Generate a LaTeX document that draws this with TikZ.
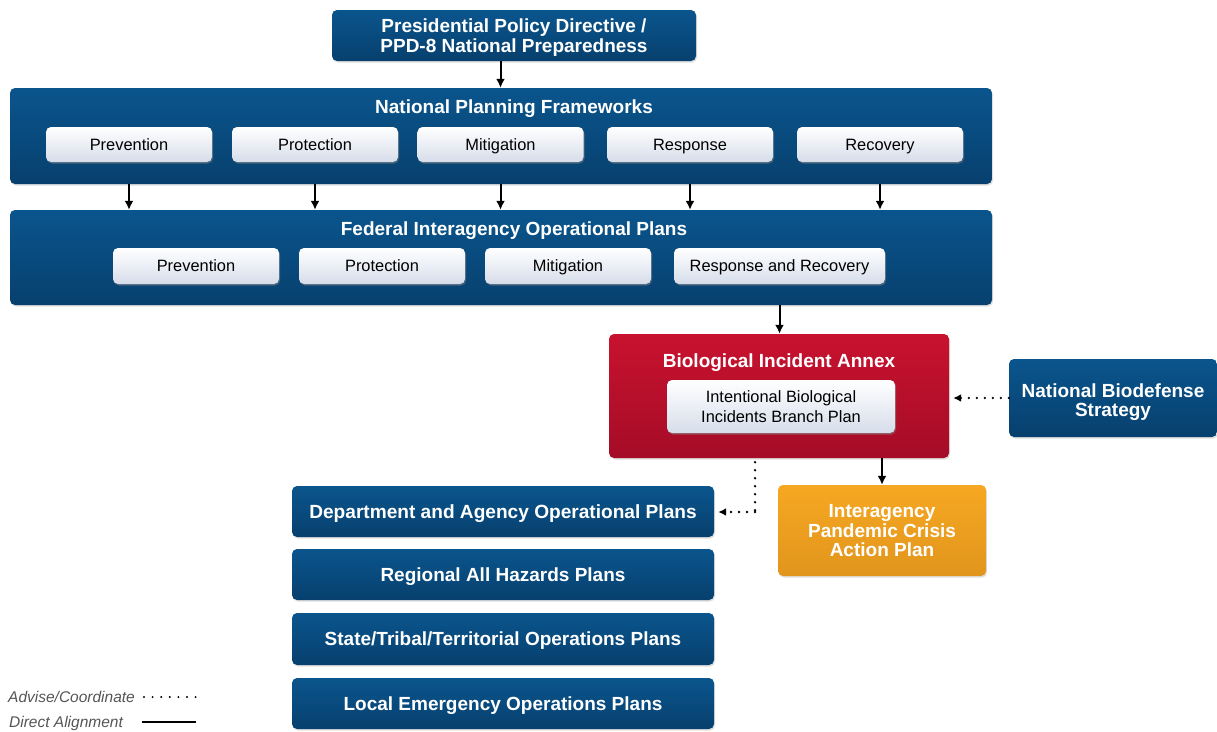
\documentclass[tikz,border=0pt]{standalone}
\usepackage{fontspec}
\setmainfont{Liberation Sans}
\usetikzlibrary{arrows.meta,shadows,calc}
\definecolor{blueT}{HTML}{0A558D}
\definecolor{blueB}{HTML}{07406E}
\definecolor{redT}{HTML}{C8122F}
\definecolor{redB}{HTML}{A50C27}
\definecolor{orgT}{HTML}{F6A822}
\definecolor{orgB}{HTML}{E1951C}
\definecolor{whB}{HTML}{D6DDEA}
\definecolor{legc}{HTML}{555555}
\tikzset{
  box/.style={rounded corners=5pt, draw=none, align=center, inner sep=0pt,
    drop shadow={shadow xshift=1pt, shadow yshift=-1.5pt, opacity=0.25}},
  bluebox/.style={box, top color=blueT, bottom color=blueB, text=white,
    text height=13.6pt, text depth=0pt,
    font=\fontsize{19}{20}\selectfont\bfseries},
  redbox/.style={box, top color=redT, bottom color=redB, text=white,
    font=\fontsize{19}{20}\selectfont\bfseries},
  orgbox/.style={box, top color=orgT, bottom color=orgB, text=white,
    text height=52.6pt, text depth=0pt,
    font=\fontsize{19}{19.5}\selectfont\bfseries},
  whitebox/.style={box, top color=white, bottom color=whB, text=black,
    text height=11.7pt, text depth=0pt,
    minimum height=35pt, font=\fontsize{16.4}{20}\selectfont,
    drop shadow={shadow xshift=1pt, shadow yshift=-1.5pt, opacity=0.35}},
  titletext/.style={text=white, inner sep=0pt, anchor=base,
    font=\fontsize{19}{20}\selectfont\bfseries},
  arr/.style={line width=2pt, -{Latex[length=9pt,width=9pt]}},
  dotarr/.style={line width=2.6pt, line cap=round, dash pattern=on 0pt off 8pt,
    -{Latex[length=8pt,width=8pt]}},
  dotline/.style={line width=2.6pt, line cap=round, dash pattern=on 0pt off 8pt},
  legtext/.style={inner sep=0pt, anchor=west, text=legc, font=\fontsize{15.5}{18}\selectfont\itshape}
}
\begin{document}
\begin{tikzpicture}[x=1pt,y=-1pt]
\useasboundingbox (0,0) rectangle (1217,731);
% top
\node[bluebox, text height=33.6pt, minimum width=364pt, minimum height=51pt] (ppd) at (514,35.5)
  {Presidential Policy Directive /\\PPD-8 National Preparedness};
% National Planning Frameworks
\node[bluebox, minimum width=982pt, minimum height=96pt] (npf) at (501,136) {};
\node[titletext] (npft) at (514,113.8) {National Planning Frameworks};
\node[whitebox, minimum width=166pt] (n1) at (129,144.5) {Prevention};
\node[whitebox, minimum width=166pt] (n2) at (315,144.5) {Protection};
\node[whitebox, minimum width=166pt] (n3) at (500.5,144.5) {Mitigation};
\node[whitebox, minimum width=166pt] (n4) at (690,144.5) {Response};
\node[whitebox, minimum width=166pt] (n5) at (880,144.5) {Recovery};
% Federal Interagency Operational Plans
\node[bluebox, minimum width=982pt, minimum height=95pt] (fiop) at (501,257.5) {};
\node[titletext] (fiopt) at (514,235) {Federal Interagency Operational Plans};
\node[whitebox, minimum width=166pt, minimum height=36pt] (f1) at (196,266) {Prevention};
\node[whitebox, minimum width=166pt, minimum height=36pt] (f2) at (382,266) {Protection};
\node[whitebox, minimum width=166pt, minimum height=36pt] (f3) at (568,266) {Mitigation};
\node[whitebox, minimum width=211pt, minimum height=36pt] (f4) at (779.5,266) {Response and Recovery};
% Biological Incident Annex
\node[redbox, minimum width=340pt, minimum height=124pt] (bia) at (779,396) {};
\node[titletext] (biat) at (779,367) {Biological Incident Annex};
\node[whitebox, text height=31.7pt, minimum width=228pt, minimum height=53pt] (ibi) at (781,406.5)
  {Intentional Biological\\Incidents Branch Plan};
% National Biodefense Strategy
\node[bluebox, text height=37.6pt, font=\fontsize{19}{19}\selectfont\bfseries,
  minimum width=208pt, minimum height=78pt] (nbs) at (1113,398)
  {National Biodefense\\Strategy};
% Interagency Pandemic Crisis Action Plan
\node[orgbox, minimum width=208pt, minimum height=91pt] (ipc) at (882,530.5)
  {Interagency\\Pandemic Crisis\\Action Plan};
% lower plans
\node[bluebox, minimum width=422pt, minimum height=51pt,
  font=\fontsize{19.1}{20}\selectfont\bfseries] (daop) at (503,511.5)
  {Department and Agency Operational Plans};
\node[bluebox, minimum width=422pt, minimum height=51pt] (rahp) at (503,574.5)
  {Regional All Hazards Plans};
\node[bluebox, minimum width=422pt, minimum height=52pt] (stto) at (503,639)
  {State/Tribal/Territorial Operations Plans};
\node[bluebox, minimum width=422pt, minimum height=51pt] (leop) at (503,703.5)
  {Local Emergency Operations Plans};
% connectors
\draw[arr] (n3 |- ppd.south) -- (n3 |- npf.north);
\foreach \n in {n1,n2,n3,n4,n5}{
  \draw[arr] (\n |- npf.south) -- (\n |- fiop.north);
}
\draw[arr] (f4 |- fiop.south) -- (f4 |- bia.north);
\draw[arr] (ipc |- bia.south) -- (ipc.north);
\draw[dotarr, shorten >=4pt] (nbs.west) -- (nbs.west -| bia.east);
\coordinate (bend) at (755,512);
\draw[dotline] (bend |- bia.south) ++(0,4) -- (bend);
\draw[dotarr, shorten >=4pt] (bend) -- (bend -| daop.east);
% legend
\node[legtext] (lg1) at (8,697) {Advise/Coordinate};
\node[legtext] (lg2) at (9,723) {Direct Alignment};
\coordinate (l1a) at (144,697); \coordinate (l1b) at (196,697);
\coordinate (l2a) at (142,722); \coordinate (l2b) at (196,722);
\draw[dotline, dash pattern=on 0pt off 8.6pt, line width=2.2pt] (l1a) -- (l1b);
\draw[line width=1.8pt] (l2a) -- (l2b);
\end{tikzpicture}
\end{document}
